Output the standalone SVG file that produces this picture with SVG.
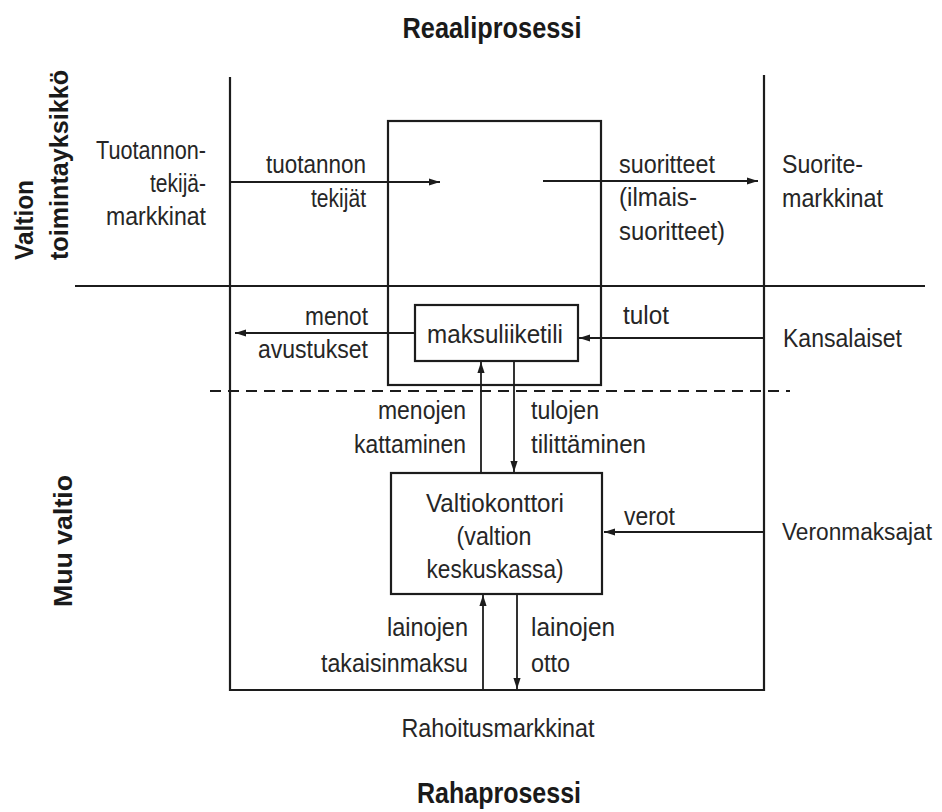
<svg xmlns="http://www.w3.org/2000/svg" width="942" height="812" viewBox="0 0 942 812">
<style>
.ln{stroke:#1c1c1c;stroke-width:2.2;fill:none}
.box{stroke:#1c1c1c;stroke-width:2.2;fill:none}
.dash{stroke:#1c1c1c;stroke-width:2;fill:none;stroke-dasharray:11 7}
.ar{stroke:#1c1c1c;stroke-width:1.8;fill:none;marker-end:url(#ah)}
text{font-family:"Liberation Sans",Arial,sans-serif;font-size:26px;fill:#262626}
.b{font-weight:bold;fill:#1a1a1a;font-size:25px}
.t{font-size:29px}
.e{text-anchor:end}
.m{text-anchor:middle}
</style>
<defs>
<marker id="ah" markerUnits="userSpaceOnUse" markerWidth="12" markerHeight="8" refX="11" refY="4" orient="auto">
<path d="M0,0.4 L11,4 L0,7.6 z" fill="#1c1c1c"/>
</marker>
</defs>
<rect width="942" height="812" fill="#ffffff"/>

<g id="titles">
<text class="b t m" x="492" y="38" textLength="179" lengthAdjust="spacingAndGlyphs">Reaaliprosessi</text>
<text class="b t m" x="499" y="803" textLength="164" lengthAdjust="spacingAndGlyphs">Rahaprosessi</text>
</g>

<g id="side-labels">
<text class="b" transform="translate(33,260) rotate(-90)" textLength="80" lengthAdjust="spacingAndGlyphs">Valtion</text>
<text class="b" transform="translate(68,260) rotate(-90)" textLength="190" lengthAdjust="spacingAndGlyphs">toimintayksikkö</text>
<text class="b" transform="translate(72,607) rotate(-90)" textLength="132" lengthAdjust="spacingAndGlyphs">Muu valtio</text>
</g>

<g id="frame">
<line class="ln" x1="230" y1="77" x2="230" y2="691"/>
<line class="ln" x1="764" y1="75" x2="764" y2="691"/>
<line class="ln" x1="75" y1="286" x2="925" y2="286"/>
<line class="ln" x1="229" y1="690" x2="765" y2="690"/>
<line class="dash" x1="210" y1="391" x2="790" y2="391"/>
</g>

<g id="toimintayksikko-box">
<rect class="box" x="388" y="121" width="213" height="264"/>
</g>

<g id="maksuliiketili">
<rect class="box" x="415" y="305" width="163" height="56"/>
<text class="m" x="495" y="343" textLength="136" lengthAdjust="spacingAndGlyphs">maksuliiketili</text>
</g>

<g id="valtiokonttori">
<rect class="box" x="391" y="473" width="211" height="121"/>
<text class="m" x="495" y="512" textLength="138" lengthAdjust="spacingAndGlyphs">Valtiokonttori</text>
<text class="m" x="494" y="545" textLength="75" lengthAdjust="spacingAndGlyphs">(valtion</text>
<text class="m" x="495" y="578" textLength="137" lengthAdjust="spacingAndGlyphs">keskuskassa)</text>
</g>

<g id="tuotannontekijamarkkinat">
<text class="e" x="206" y="159" textLength="110" lengthAdjust="spacingAndGlyphs">Tuotannon-</text>
<text class="e" x="206" y="192" textLength="56" lengthAdjust="spacingAndGlyphs">tekijä-</text>
<text class="e" x="206" y="225" textLength="100" lengthAdjust="spacingAndGlyphs">markkinat</text>
</g>

<g id="suoritemarkkinat">
<text x="782" y="173" textLength="81" lengthAdjust="spacingAndGlyphs">Suorite-</text>
<text x="782" y="207" textLength="101" lengthAdjust="spacingAndGlyphs">markkinat</text>
</g>

<g id="kansalaiset">
<text x="783" y="347" textLength="119" lengthAdjust="spacingAndGlyphs">Kansalaiset</text>
</g>

<g id="veronmaksajat">
<text x="782" y="540" style="font-size:23px" textLength="150" lengthAdjust="spacingAndGlyphs">Veronmaksajat</text>
</g>

<g id="rahoitusmarkkinat">
<text class="m" x="498" y="737" textLength="193" lengthAdjust="spacingAndGlyphs">Rahoitusmarkkinat</text>
</g>

<g id="connectors">
<line class="ar" x1="230" y1="182" x2="440" y2="182"/>
<line class="ar" x1="543" y1="181" x2="758" y2="181"/>
<line class="ar" x1="415" y1="333" x2="235" y2="333"/>
<line class="ar" x1="764" y1="338" x2="579" y2="338"/>
<line class="ar" x1="481" y1="473" x2="481" y2="362"/>
<line class="ar" x1="514" y1="361" x2="514" y2="472"/>
<line class="ar" x1="764" y1="532" x2="604" y2="532"/>
<line class="ar" x1="483" y1="690" x2="483" y2="595"/>
<line class="ar" x1="517" y1="594" x2="517" y2="689"/>
<text class="e" x="366" y="173" textLength="100" lengthAdjust="spacingAndGlyphs">tuotannon</text>
<text class="e" x="366" y="207" textLength="55" lengthAdjust="spacingAndGlyphs">tekijät</text>
<text x="619" y="173" textLength="96" lengthAdjust="spacingAndGlyphs">suoritteet</text>
<text x="619" y="206" textLength="78" lengthAdjust="spacingAndGlyphs">(ilmais-</text>
<text x="619" y="240" textLength="106" lengthAdjust="spacingAndGlyphs">suoritteet)</text>
<text class="e" x="368" y="325" textLength="63" lengthAdjust="spacingAndGlyphs">menot</text>
<text class="e" x="368" y="358" textLength="110" lengthAdjust="spacingAndGlyphs">avustukset</text>
<text x="623" y="324" textLength="46" lengthAdjust="spacingAndGlyphs">tulot</text>
<text class="e" x="466" y="419" textLength="88" lengthAdjust="spacingAndGlyphs">menojen</text>
<text class="e" x="466" y="453" textLength="112" lengthAdjust="spacingAndGlyphs">kattaminen</text>
<text x="531" y="419" textLength="68" lengthAdjust="spacingAndGlyphs">tulojen</text>
<text x="531" y="453" textLength="115" lengthAdjust="spacingAndGlyphs">tilittäminen</text>
<text x="624" y="525" textLength="51" lengthAdjust="spacingAndGlyphs">verot</text>
<text class="e" x="468" y="636" textLength="81" lengthAdjust="spacingAndGlyphs">lainojen</text>
<text class="e" x="468" y="672" textLength="147" lengthAdjust="spacingAndGlyphs">takaisinmaksu</text>
<text x="531" y="636" textLength="84" lengthAdjust="spacingAndGlyphs">lainojen</text>
<text x="531" y="672" textLength="39" lengthAdjust="spacingAndGlyphs">otto</text>
</g>
</svg>
